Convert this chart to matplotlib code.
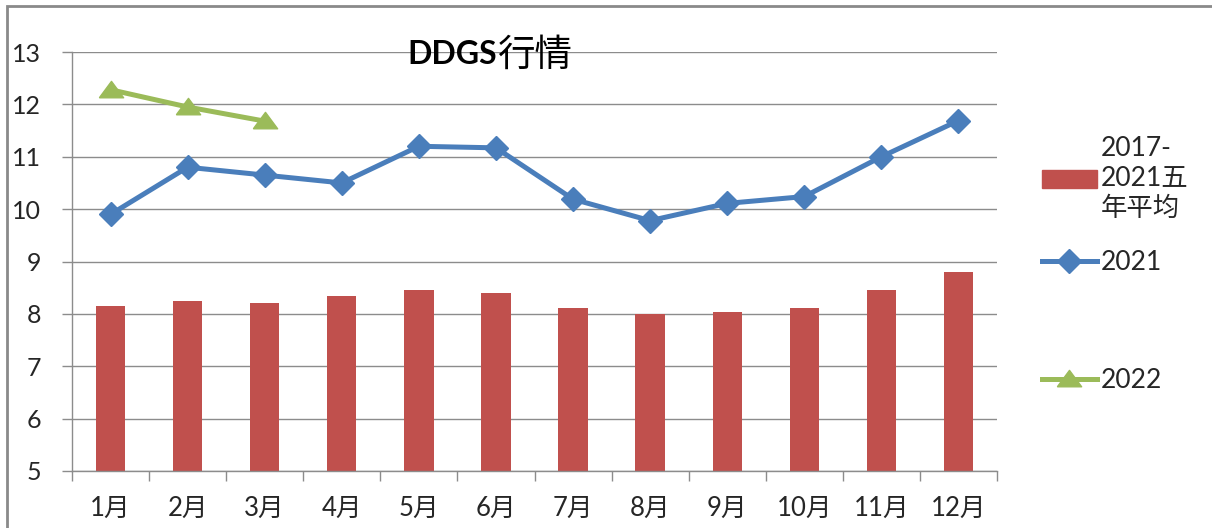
import matplotlib
matplotlib.use("Agg")
import matplotlib.pyplot as plt
from matplotlib.lines import Line2D
from matplotlib.patches import Patch, Rectangle
import numpy as np

plt.rcParams['font.family'] = ['Lato', 'Noto Sans CJK SC', 'DejaVu Sans']

months = ['1月', '2月', '3月', '4月', '5月', '6月', '7月', '8月', '9月', '10月', '11月', '12月']
avg_5yr = [8.15, 8.25, 8.2, 8.35, 8.45, 8.4, 8.11, 7.99, 8.03, 8.11, 8.45, 8.79]
y2021 = [9.9, 10.8, 10.65, 10.5, 11.2, 11.17, 10.19, 9.78, 10.11, 10.24, 11.0, 11.69]
y2022 = [12.28, 11.95, 11.68]
yticks = [5, 6, 7, 8, 9, 10, 11, 12, 13]

c_bar = '#C0504D'
c_2021 = '#4A7EBB'
c_2022 = '#9BBB59'
c_grid = '#8C8C8C'
c_text = '#262626'

fig = plt.figure(figsize=(12.12, 5.28), dpi=100)
ax = fig.add_axes([72/1212, 57/528, (997-72)/1212, (471-52)/528])

x = np.arange(len(months))
ax.bar(x, avg_5yr, width=0.38, color=c_bar, zorder=2)
ax.plot(x, y2021, color=c_2021, lw=3.6, marker='D', markersize=12.5, zorder=3)
tri = [(-1, -0.6), (1, -0.6), (0, 0.75), (-1, -0.6)]
ax.plot(x[:len(y2022)], y2022, color=c_2022, lw=3.6, marker=tri, markersize=17.5, zorder=4)

ax.set_ylim(5, 13)
ax.set_xlim(-0.5, len(months) - 0.5)
ax.set_yticks(yticks)
ax.set_yticklabels([str(v) for v in yticks], fontsize=18, color=c_text)
ax.yaxis.grid(True, color=c_grid, lw=1.0, zorder=0)
ax.set_axisbelow(True)

ax.set_xticks(x)
ax.set_xticklabels(months, fontsize=18.5, color=c_text)
ax.set_xticks(np.arange(-0.5, len(months)), minor=True)
ax.tick_params(axis='x', which='major', length=0, pad=18)
ax.tick_params(axis='x', which='minor', length=7.5, color=c_grid, width=1.0)
ax.tick_params(axis='y', which='major', length=7.5, color=c_grid, width=1.0, pad=15)

for s in ['top', 'right']:
    ax.spines[s].set_visible(False)
for s in ['left', 'bottom']:
    ax.spines[s].set_color(c_grid)
    ax.spines[s].set_linewidth(1.0)

# title
fig.text(497/1212, 1 - 54/528, 'DDGS', fontsize=23, fontweight='bold',
         ha='right', va='center', color='black')
fig.text(497/1212, 1 - 55/528, '行情', fontsize=27,
         ha='left', va='center', color='black', family=['Noto Sans CJK SC'])

# legends
common = dict(frameon=False, fontsize=19, handlelength=2.1, handletextpad=0.15,
              borderaxespad=0, labelcolor=c_text)
leg1 = fig.legend(handles=[Patch(color=c_bar)], labels=['2017-\n2021五\n年平均'],
                  loc='center left', bbox_to_anchor=(1031/1212, 1 - 178/528), **common)
leg2 = fig.legend(handles=[Line2D([], [], color=c_2021, lw=3.6, marker='D', markersize=12.5)],
                  labels=['2021'], loc='center left',
                  bbox_to_anchor=(1031/1212, 1 - 263/528), **common)
leg3 = fig.legend(handles=[Line2D([], [], color=c_2022, lw=3.6, marker=tri, markersize=17.5)],
                  labels=['2022'], loc='center left',
                  bbox_to_anchor=(1031/1212, 1 - 381/528), **common)
for lg in (leg1, leg2, leg3):
    for t in lg.get_texts():
        t.set_linespacing(1.25)

# outer chart border
fig.patches.append(Rectangle((7/1212, -0.05), 1.2, 1 - 6/528 + 0.05,
                             transform=fig.transFigure, fill=False,
                             edgecolor='#8A8A8A', lw=2.0, figure=fig))

fig.savefig('out.png', dpi=100)
